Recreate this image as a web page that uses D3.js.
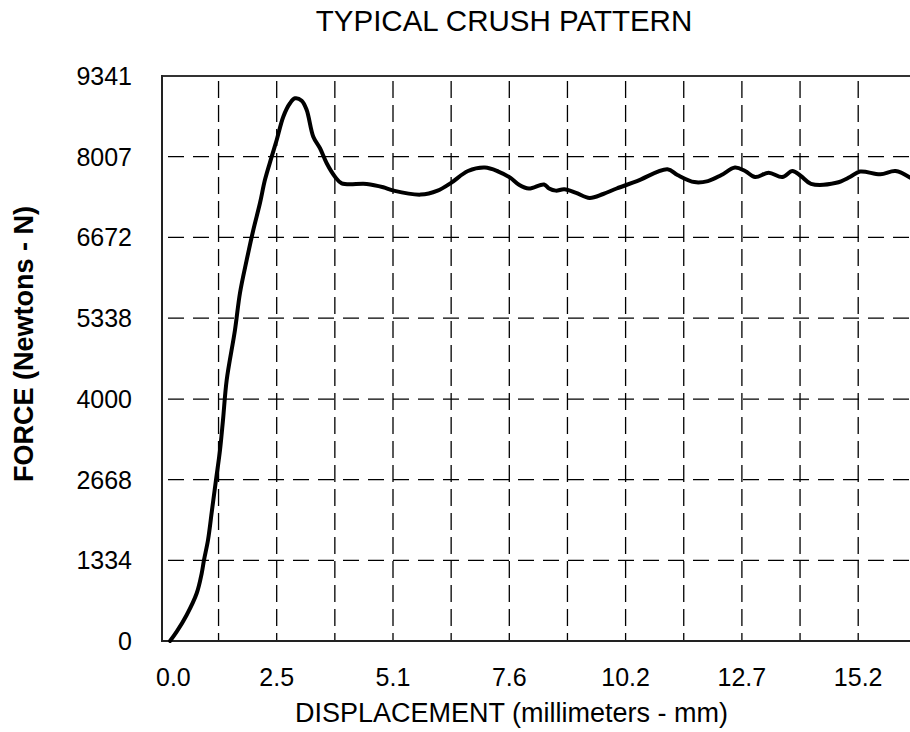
<!DOCTYPE html>
<html>
<head>
<meta charset="utf-8">
<script src="https://cdn.jsdelivr.net/npm/d3@7/dist/d3.min.js"></script>
<style>
  html, body { margin: 0; padding: 0; background: #fff; }
  svg { display: block; }
  text { font-family: "Liberation Sans", Arial, sans-serif; fill: #000; }
</style>
</head>
<body>
<svg id="chart" width="910" height="732"></svg>
<script>
// ---- data (displacement in mm, force in N) ----
const displacement = [0.21,0.356,0.574,0.793,0.902,0.952,1.040,1.127,1.214,1.302,1.367,1.448,1.629,1.738,1.885,2.029,2.175,2.285,2.431,2.540,2.684,2.830,2.940,3.086,3.195,3.339,3.486,3.632,3.813,3.960,4.506,4.868,5.093,5.685,6.054,6.349,6.718,7.087,7.382,7.640,7.825,8.046,8.378,8.489,8.636,8.821,9.079,9.374,9.671,9.965,10.409,11.073,11.293,11.663,11.957,12.252,12.549,12.770,12.990,13.285,13.582,13.803,13.988,14.209,14.761,15.059,15.279,15.723,16.055,16.371];
const force = [0,154,430,789,1119,1339,1670,2166,2662,3158,3654,4315,5142,5754,6300,6796,7241,7628,8007,8283,8668,8890,8972,8933,8779,8338,8146,7898,7676,7567,7556,7501,7446,7380,7446,7575,7770,7827,7761,7660,7547,7481,7547,7481,7446,7469,7408,7324,7390,7481,7604,7799,7704,7587,7604,7704,7827,7770,7670,7743,7670,7770,7688,7559,7575,7670,7761,7716,7770,7660];
const yTicks = [0,1334,2668,4000,5338,6672,8007,9341];
const xGrid = [1.27,2.54,3.81,5.08,6.35,7.62,8.89,10.16,11.43,12.70,13.97,15.24];
const xTickValues = [0,2.54,5.08,7.62,10.16,12.70,15.24];
const xTickLabels = ["0.0","2.5","5.1","7.6","10.2","12.7","15.2"];
const chartTitle = "TYPICAL CRUSH PATTERN";
const xTitle = "DISPLACEMENT (millimeters - mm)";
const yTitle = "FORCE (Newtons - N)";

const svg = d3.select("#chart");
const pLeft = 160.4, pRight = 910, pTop = 76, pBottom = 641;
const x = d3.scaleLinear().domain([0, (pRight - pLeft) / 116.3 * 2.54]).range([pLeft, pRight]);
const y = d3.scaleLinear().domain([0, 9341]).range([pBottom, pTop]);

// grid
const grid = svg.append("g");
grid.selectAll("line.v").data(xGrid).join("line")
  .attr("x1", d => x(d)).attr("x2", d => x(d))
  .attr("y1", pTop + 5).attr("y2", pBottom)
  .attr("stroke", "#000").attr("stroke-width", 1.3)
  .attr("stroke-dasharray", "17,7");
grid.selectAll("line.h").data(yTicks.slice(1, -1)).join("line")
  .attr("x1", 162).attr("x2", pRight)
  .attr("y1", d => y(d)).attr("y2", d => y(d))
  .attr("stroke", "#000").attr("stroke-width", 1.3)
  .attr("stroke-dasharray", "16,9")
  .attr("stroke-dashoffset", -6);

// frame
svg.append("line").attr("x1", 162).attr("x2", pRight).attr("y1", pTop).attr("y2", pTop)
  .attr("stroke", "#333").attr("stroke-width", 2);
svg.append("line").attr("x1", 162).attr("x2", 162).attr("y1", pTop - 1).attr("y2", pBottom + 1)
  .attr("stroke", "#222").attr("stroke-width", 2);
svg.append("line").attr("x1", 161).attr("x2", pRight).attr("y1", pBottom).attr("y2", pBottom)
  .attr("stroke", "#222").attr("stroke-width", 2);

// y tick labels
svg.append("g").selectAll("text").data(yTicks).join("text")
  .attr("x", 132).attr("y", d => y(d)).attr("dy", "0.36em")
  .attr("text-anchor", "end").attr("font-size", 25)
  .text(d => d);

// x tick labels
svg.append("g").selectAll("text").data(xTickValues).join("text")
  .attr("x", (d, i) => x(d) + (i === 0 ? 13 : 0)).attr("y", 686)
  .attr("text-anchor", "middle").attr("font-size", 25)
  .text((d, i) => xTickLabels[i]);

// curve
const pts = displacement.map((d, i) => [d, force[i]]);
const line = d3.line().x(d => x(d[0])).y(d => y(d[1])).curve(d3.curveCatmullRom.alpha(0.5));
svg.append("path").datum(pts).attr("d", line)
  .attr("fill", "none").attr("stroke", "#000").attr("stroke-width", 4)
  .attr("stroke-linejoin", "round").attr("stroke-linecap", "round");

// titles
svg.append("text").attr("x", 504).attr("y", 31).attr("text-anchor", "middle")
  .attr("font-size", 29.5).text(chartTitle);
svg.append("text").attr("x", 511.5).attr("y", 722).attr("text-anchor", "middle")
  .attr("font-size", 27).text(xTitle);
svg.append("text").attr("transform", "translate(33,344) rotate(-90)")
  .attr("text-anchor", "middle").attr("font-size", 27).attr("font-weight", "bold")
  .text(yTitle);
</script>
</body>
</html>
